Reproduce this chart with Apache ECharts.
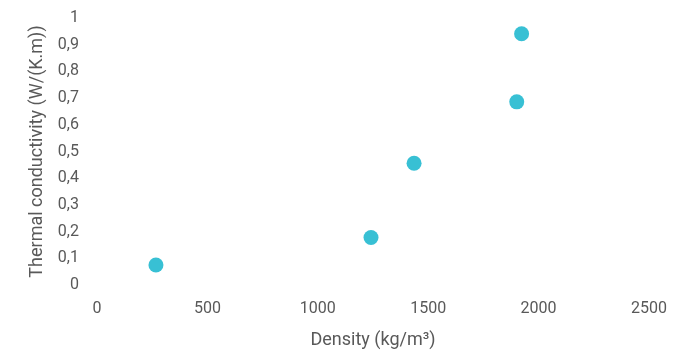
<!DOCTYPE html>
<html><head><meta charset="utf-8">
<script src="https://cdn.jsdelivr.net/npm/echarts@6/dist/echarts.min.js"></script>
<style>html,body{margin:0;padding:0;background:#fff}#c{width:697px;height:354px}</style>
</head><body><div id="c"></div>
<script>
const density = [267, 1241, 1436, 1901, 1923];
const conductivity = [0.075, 0.178, 0.456, 0.686, 0.941];
const xTitle = 'Density (kg/m³)';
const yTitle = 'Thermal conductivity (W/(K.m))';

const chart = echarts.init(document.getElementById('c'));
const txt = '#595959';
const font = 'Roboto';
chart.setOption({
  animation: false,
  grid: {left: 97, right: 48, top: 18, bottom: 63, containLabel: false},
  xAxis: {
    type: 'value', min: 0, max: 2500, interval: 500,
    name: xTitle, nameLocation: 'middle', nameGap: 46,
    nameTextStyle: {color: txt, fontSize: 18, fontFamily: font},
    axisLine: {show: false}, axisTick: {show: false}, splitLine: {show: false},
    axisLabel: {color: txt, fontSize: 16, fontFamily: font, margin: 16,
      formatter: v => String(v)}
  },
  yAxis: {
    type: 'value', min: 0, max: 1, interval: 0.1,
    name: yTitle, nameLocation: 'middle', nameGap: 49, nameRotate: 90,
    nameTextStyle: {color: txt, fontSize: 18, fontFamily: font},
    axisLine: {show: false}, axisTick: {show: false}, splitLine: {show: false},
    axisLabel: {color: txt, fontSize: 16, fontFamily: font, margin: 18,
      formatter: v => String(Math.round(v * 10) / 10).replace('.', ',')}
  },
  series: [{
    type: 'scatter', symbolSize: 15,
    itemStyle: {color: '#06b0c9'},
    data: density.map((d, i) => [d, conductivity[i]])
  }]
});
</script></body></html>
